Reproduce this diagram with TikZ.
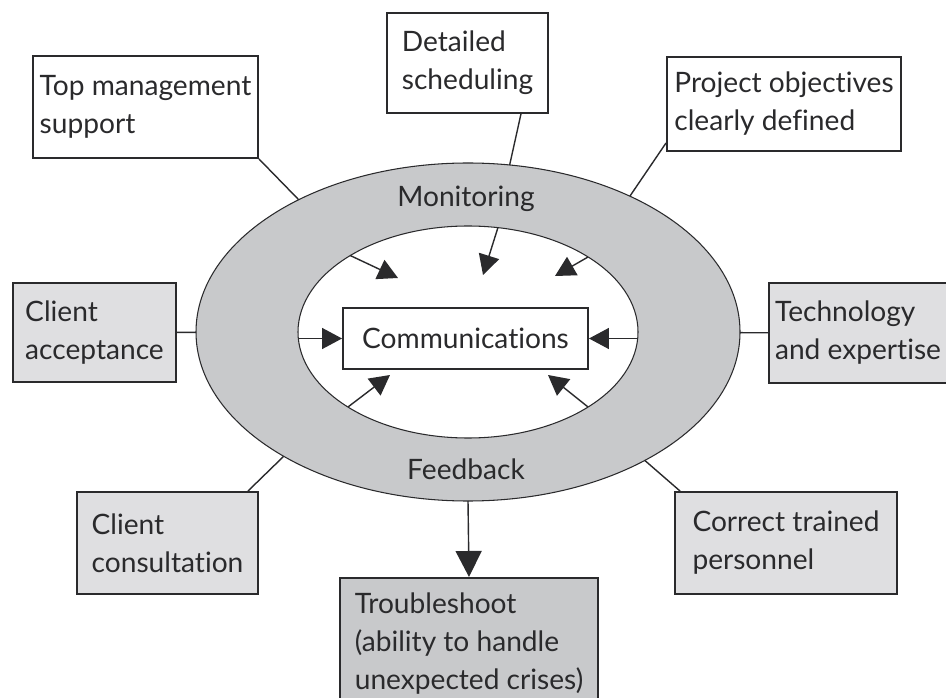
\documentclass[tikz,border=0pt]{standalone}
\usepackage{fontspec}
\setmainfont{Lato}[Ligatures=NoCommon]
\usetikzlibrary{shapes.geometric,arrows.meta}

\definecolor{ringgray}{HTML}{C8C9CB}
\definecolor{boxgray}{HTML}{DFDFE1}
\definecolor{inkgray}{HTML}{2A2A2C}

\begin{document}
\begin{tikzpicture}[>={Triangle[length=0.4cm,width=0.42cm]},
    box/.style={draw=inkgray, line width=1.1pt, align=left, minimum height=2cm,
        text=inkgray, font=\fontsize{16}{21.6}\selectfont},
    link/.style={draw=inkgray, line width=0.8pt}]
    \useasboundingbox (0,0) rectangle (18.92,13.94);

    % the two rings
    \node (ring) at (9.36,7.30) [ellipse, draw=inkgray, fill=ringgray, line width=0.6pt,
        minimum width=10.88cm, minimum height=6.76cm, inner sep=0pt, outer sep=0pt]{};
    \node (core) at (9.36,7.30) [ellipse, draw=inkgray, fill=white, line width=0.6pt,
        minimum width=6.8cm, minimum height=4.24cm, inner sep=0pt, outer sep=0pt]{};
    \node (mon) at (9.32,9.96) [text=inkgray, font=\fontsize{16}{21.6}\selectfont]{Monitoring};
    \node (fb) at (9.32,4.56) [text=inkgray, font=\fontsize{16}{21.6}\selectfont]{Feedback};

    % boxes
    \node (comm) at (9.31,7.17) [box, fill=white, minimum width=4.9cm, minimum height=1.22cm]{Communications};
    \node (tm) at (2.91,11.80) [box, fill=white, minimum width=4.5cm, minimum height=2.04cm]{Top management\\support};
    \node (ds) at (9.35,12.68) [box, fill=white, minimum width=3.22cm]{Detailed\\scheduling};
    \node (po) at (15.68,11.86) [box, fill=white, minimum width=4.68cm, minimum height=1.88cm]{Project objectives\\clearly defined};
    \node (ca) at (1.89,7.29) [box, fill=boxgray, minimum width=3.26cm, minimum height=1.98cm]{Client\\acceptance};
    \node (te) at (17.16,7.28) [box, fill=boxgray, minimum width=3.44cm]{Technology\\and expertise};
    \node (cc) at (3.35,3.08) [box, fill=boxgray, minimum width=3.62cm, minimum height=2.04cm]{Client\\consultation};
    \node (ct) at (15.72,3.08) [box, fill=boxgray, minimum width=4.44cm, minimum height=2.04cm]{Correct trained\\personnel};
    \node (ts) at (9.38,2.40) [box, anchor=north, fill=ringgray, minimum width=5.16cm, inner ysep=0.3cm]{Troubleshoot\\(ability to handle\\unexpected crises)};

    % outer links
    \draw[link] (tm.south east) -- (ring.142);
    \draw[link] ([xshift=-0.56cm]ds.south east) -- (ring.76);
    \draw[link] ([yshift=0.18cm]po.south west) -- (ring.40);
    \draw[link] (ca) -- (ring);
    \draw[link] (te) -- (ring);
    \draw[link] ([xshift=-0.22cm]cc.north east) -- (ring.214);
    \draw[link] ([xshift=0.12cm]ct.north west) -- (ring.324);
    \draw[link,-{Triangle[length=0.52cm,width=0.52cm]}] (ring.south) -- (ts.north);

    % arrows into communications
    \coordinate (t1) at (7.96,8.38);
    \coordinate (t2) at (9.66,8.44);
    \coordinate (t3) at (11.10,8.42);
    \coordinate (t4) at (7.80,6.44);
    \coordinate (t5) at (10.96,6.44);
    \foreach \a/\t in {147/t1,74/t2,32/t3,212/t4,328/t5}
    {
        \draw[link,->] (core.\a) -- (\t);
    }
    \draw[link,->] (comm.west -| core.west) -- (comm.west);
    \draw[link,->] (comm.east -| core.east) -- (comm.east);
\end{tikzpicture}
\end{document}
